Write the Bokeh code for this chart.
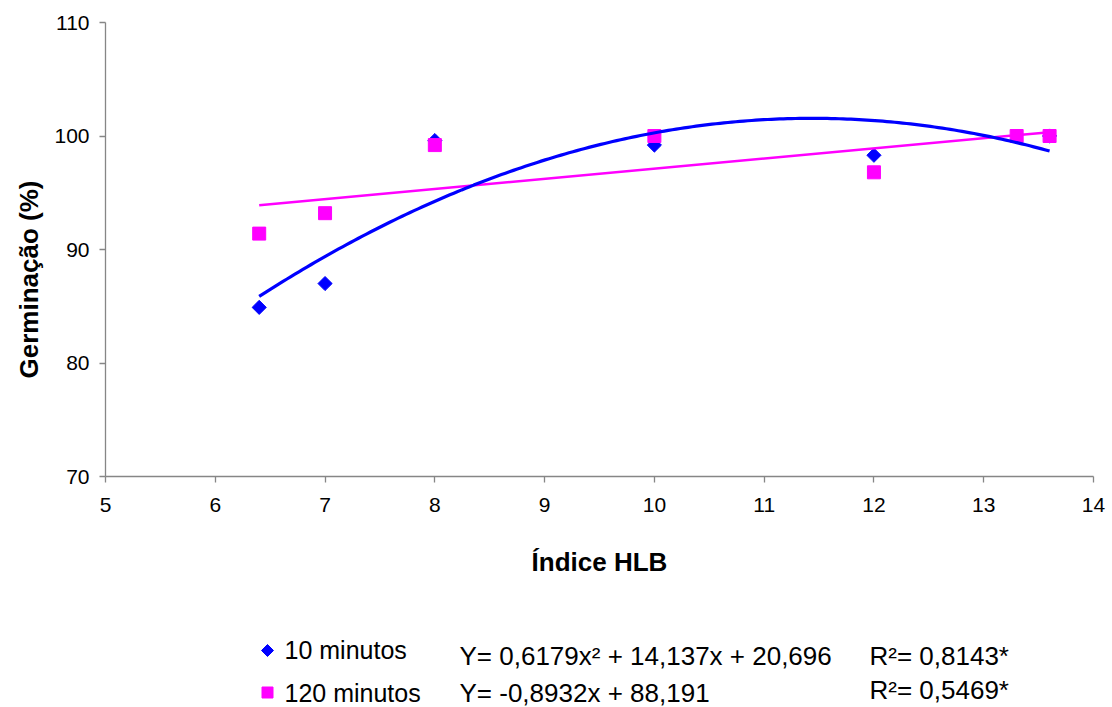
import numpy as np
from bokeh.plotting import figure
from bokeh.models import Range1d, FixedTicker, Title
from bokeh.layouts import column
from bokeh.core.properties import value
from bokeh.embed import file_html
from bokeh.resources import INLINE

# ---- data ----
x_10 = [6.4, 7.0, 8.0, 10.0, 12.0, 13.6]
y_10 = [84.9, 87.0, 99.6, 99.2, 98.3, 100.0]
x_120 = [6.4, 7.0, 8.0, 10.0, 12.0, 13.3, 13.6]
y_120 = [91.4, 93.2, 99.2, 100.0, 96.8, 100.0, 100.0]
# trend-line coefficients (as drawn)
quad_coef = [-0.6179, 14.137, 20.696]
lin_coef = [0.8932, 88.191]

x_ticks = [5, 6, 7, 8, 9, 10, 11, 12, 13, 14]
y_ticks = [70, 80, 90, 100, 110]

series_names = ["10 minutos", "120 minutos"]
eq_texts = ["Y= 0,6179x\u00b2 + 14,137x + 20,696", "Y= -0,8932x + 88,191"]
r2_texts = ["R\u00b2= 0,8143*", "R\u00b2= 0,5469*"]

FONT = "Liberation Sans"
BLUE = "#0000FF"
MAG = "#FF00FF"
AXC = "#868686"

p = figure(width=1112, height=620, output_backend="svg", toolbar_location=None,
           x_range=Range1d(5, 14), y_range=Range1d(70, 110),
           min_border_left=105, min_border_right=19, min_border_top=22,
           min_border_bottom=144)
p.outline_line_color = None
p.grid.visible = False
p.background_fill_color = "white"
p.border_fill_color = "white"

for ax in (p.xaxis[0], p.yaxis[0]):
    ax.axis_line_color = AXC
    ax.axis_line_width = 1.3
    ax.major_tick_line_color = AXC
    ax.major_tick_line_width = 1.3
    ax.major_tick_in = 0
    ax.major_tick_out = 6
    ax.minor_tick_line_color = None
    ax.major_label_text_font = FONT
    ax.major_label_text_font_size = "21px"
    ax.major_label_text_color = "black"

p.xaxis.ticker = FixedTicker(ticks=x_ticks)
p.yaxis.ticker = FixedTicker(ticks=y_ticks)
p.xaxis.major_label_standoff = 15
p.yaxis.major_label_standoff = 10
p.xaxis.axis_label = "Índice HLB"
p.xaxis.axis_label_text_font = FONT
p.xaxis.axis_label_text_font_size = "26px"
p.xaxis.axis_label_text_font_style = "bold"
p.xaxis.axis_label_text_color = "black"
p.xaxis.axis_label_standoff = 32

ytitle = Title(text="Germinação (%)", align="left", offset=98, standoff=15,
               text_font=FONT, text_font_size="26px", text_font_style="bold",
               text_color="black")
p.add_layout(ytitle, "left")

# markers
p.scatter(x_10, y_10, marker="square", angle=np.pi / 4, size=10,
          fill_color=BLUE, line_color=BLUE)
p.scatter(x_120, y_120, marker="square", size=13,
          fill_color=MAG, line_color=MAG)

# trend lines
xq = np.linspace(min(x_10), max(x_10), 200)
yq = np.polyval(quad_coef, xq)
xl = np.array([min(x_120), max(x_120)])
yl = np.polyval(lin_coef, xl)
p.line(xl, yl, line_color=MAG, line_width=2.5)
p.line(xq, yq, line_color=BLUE, line_width=3.2)

# ---- legend area below (frame aligned with the plot: x in canvas px) ----
lg = figure(width=1112, height=87, output_backend="svg", toolbar_location=None,
            x_range=Range1d(105, 1093), y_range=Range1d(707, 620),
            min_border_left=105, min_border_right=19,
            min_border_top=0, min_border_bottom=0)
lg.axis.visible = False
lg.grid.visible = False
lg.outline_line_color = None
lg.border_fill_color = "white"

lg.scatter([267], [650], marker="square", angle=np.pi / 4, size=8.5,
           fill_color=BLUE, line_color=BLUE)
lg.scatter([267], [692], marker="square", size=11,
           fill_color=MAG, line_color=MAG)
lg.text([284, 284], [649, 692], text=series_names, text_font=value(FONT),
        text_font_size="25px", text_align="left", text_baseline="middle",
        text_color="black")
lg.text([459, 459], [655, 692], text=eq_texts, text_font=value(FONT),
        text_font_size="26px", text_align="left", text_baseline="middle",
        text_color="black")
lg.text([869, 869], [655, 689], text=r2_texts, text_font=value(FONT),
        text_font_size="26px", text_align="left", text_baseline="middle",
        text_color="black")

layout = column(p, lg, spacing=0)
open("out.html", "w").write(file_html(layout, INLINE))
